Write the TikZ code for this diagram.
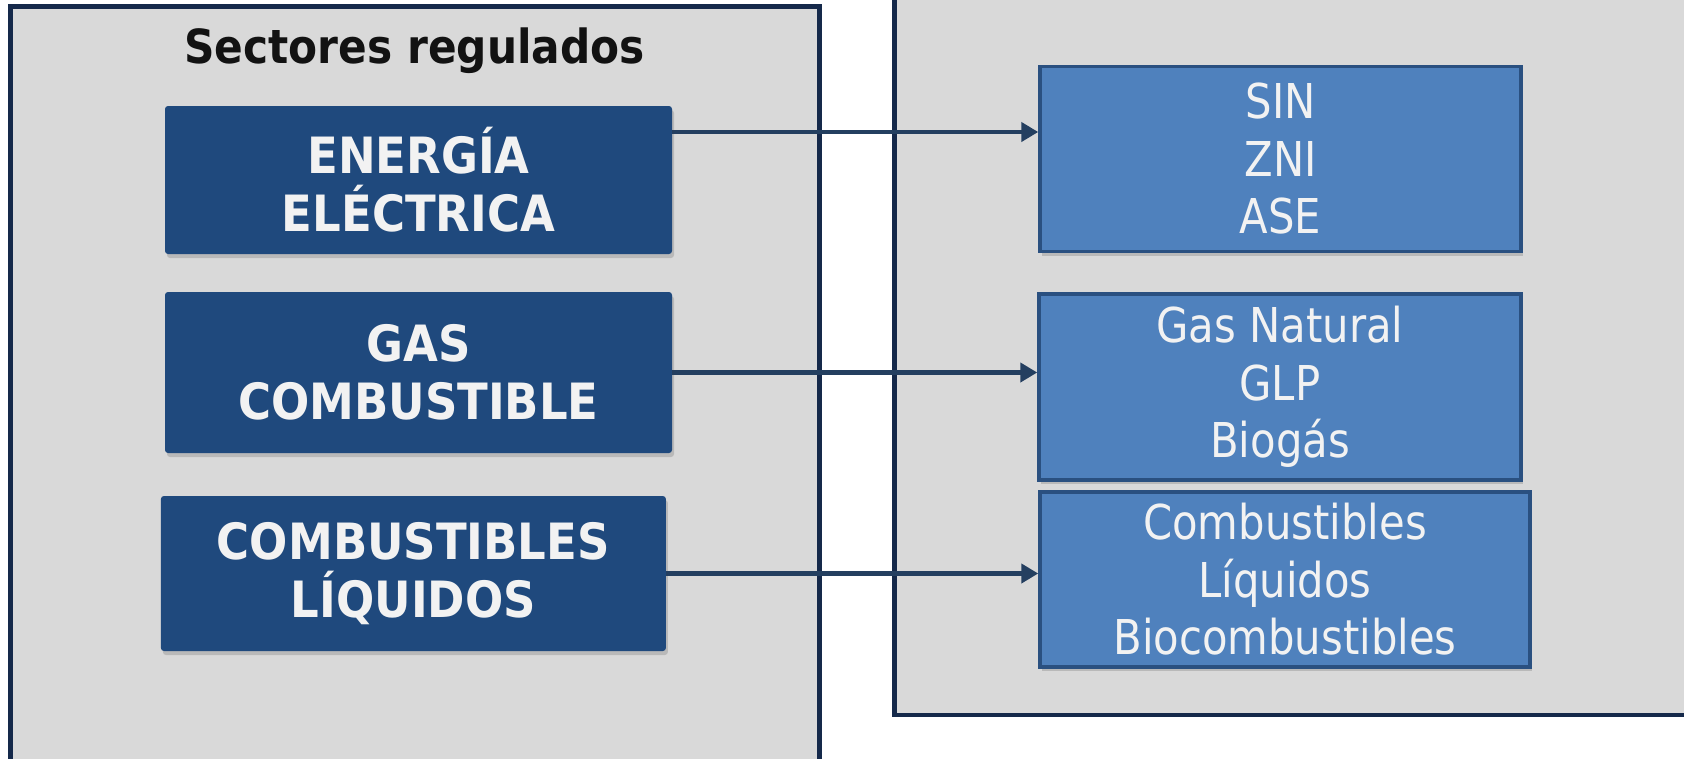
\documentclass[tikz,border=0pt]{standalone}
\usepackage{fontspec}
\setmainfont{DejaVu Sans}[FakeStretch=0.87]
\newfontfamily\heavyfont{DejaVu Sans}[FakeStretch=0.9]
\usetikzlibrary{arrows.meta,shadows}
\definecolor{panelgray}{HTML}{D9D9D9}
\definecolor{panelline}{HTML}{15294A}
\definecolor{sectorblue}{HTML}{1F497D}
\definecolor{kindblue}{HTML}{4F81BD}
\definecolor{kindline}{HTML}{2A5080}
\definecolor{linkblue}{HTML}{243F60}
\definecolor{textwhite}{HTML}{F2F2F2}
\begin{document}
\begin{tikzpicture}[x=1pt,y=-1pt,
  panel/.style={draw=panelline, line width=4.5pt, fill=panelgray},
  sector/.style={fill=sectorblue, rounded corners=3pt, text=textwhite, align=center,
    inner sep=0pt, font=\heavyfont\bfseries\fontsize{50}{58}\selectfont,
    drop shadow={shadow xshift=2pt, shadow yshift=-4pt, opacity=0.35}},
  kind/.style={fill=kindblue, draw=kindline, line width=3.5pt, text=textwhite, align=center,
    inner sep=0pt, font=\fontsize{48}{57.5}\selectfont,
    drop shadow={shadow xshift=2pt, shadow yshift=-4pt, opacity=0.35}},
  link/.style={draw=linkblue, line width=4.5pt, -{Triangle[length=17pt,width=19pt]}}]
\useasboundingbox (0,0) rectangle (1684,758);
\clip (0,0) rectangle (1684,758);
% the two panels
\draw[panel] (10.7,6.4) rectangle (819.5,780);
\draw[panel] (894.6,-20) rectangle (1710,715);
\node[anchor=base, text=black!93, font=\heavyfont\bfseries\fontsize{47}{52}\selectfont] (title) at (414.6,63) {Sectores regulados};
% regulated sectors
\node[sector, minimum width=507pt, minimum height=148pt] (elec) at (418.5,180) {ENERGÍA\\ELÉCTRICA};
\node[sector, minimum width=507pt, minimum height=161pt] (gas) at (418.5,372.5) {GAS\\COMBUSTIBLE};
\node[sector, minimum width=505pt, minimum height=155pt] (liq) at (413.4,573.5) {COMBUSTIBLES\\LÍQUIDOS};
% what each one covers
\node[kind, minimum width=481pt, minimum height=185pt] (elecKind) at (1280.5,159) {SIN\\ZNI\\ASE};
\node[kind, minimum width=482pt, minimum height=186pt] (gasKind) at (1280,387) {Gas Natural\\GLP\\Biogás};
\node[kind, minimum width=490pt, minimum height=175pt] (liqKind) at (1285,579.5) {Combustibles\\Líquidos\\Biocombustibles};
% connectors
\coordinate (elecOut) at ([yshift=48pt]elec.east);
\draw[link] (elecOut) -- (elecOut -| elecKind.west);
\draw[link] (gas.east) -- (gas.east -| gasKind.west);
\draw[link] (liq.east) -- (liq.east -| liqKind.west);
\end{tikzpicture}
\end{document}
